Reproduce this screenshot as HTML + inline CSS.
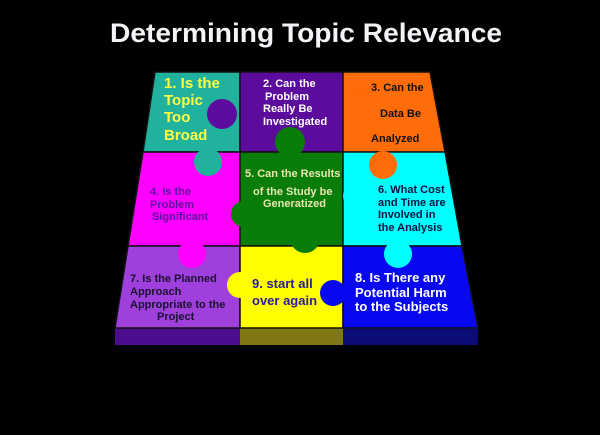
<!DOCTYPE html>
<html><head><style>
html,body{margin:0;padding:0;background:#000;}
svg{display:block;}
text{font-family:"Liberation Sans",sans-serif;font-weight:bold;}
</style></head><body>
<svg width="600" height="435" viewBox="0 0 600 435">
<rect width="600" height="435" fill="#000"/>
<text x="110" y="42" font-size="27" fill="#f4f4f8" textLength="392" lengthAdjust="spacingAndGlyphs">Determining Topic Relevance</text>
<rect x="115" y="328" width="125" height="17" fill="#4c0c90"/>
<rect x="240" y="328" width="103" height="17" fill="#807814"/>
<rect x="343" y="328" width="135" height="17" fill="#0c0c78"/>
<g stroke="#111" stroke-width="1.5">
<polygon points="155,72 240,72 240,152 143,152" fill="#20b29c"/>
<polygon points="240,72 343,72 343,152 240,152" fill="#5c0c9c"/>
<polygon points="343,72 430,72 445,152 343,152" fill="#ff6c08"/>
<polygon points="143,152 240,152 240,246 128,246" fill="#ff00ff"/>
<polygon points="240,152 343,152 343,246 240,246" fill="#0a7c0a"/>
<polygon points="343,152 445,152 462,246 343,246" fill="#00ffff"/>
<polygon points="128,246 240,246 240,328 115,328" fill="#a040dc"/>
<polygon points="240,246 343,246 343,328 240,328" fill="#ffff00"/>
<polygon points="343,246 462,246 478,328 343,328" fill="#0808f0"/>
</g>
<g stroke="none">
<circle cx="222" cy="114" r="15" fill="#5c0c9c"/>
<circle cx="290" cy="142" r="15" fill="#0a7c0a"/>
<circle cx="360" cy="105" r="13" fill="#ff6c08"/>
<circle cx="383" cy="165" r="14" fill="#ff6c08"/>
<circle cx="208" cy="162" r="14" fill="#20b29c"/>
<circle cx="244" cy="214" r="13" fill="#0a7c0a"/>
<circle cx="356" cy="196" r="13" fill="#00ffff"/>
<circle cx="305" cy="238" r="15" fill="#0a7c0a"/>
<circle cx="192" cy="254" r="14" fill="#ff00ff"/>
<circle cx="398" cy="254" r="14" fill="#00ffff"/>
<circle cx="240" cy="285" r="13" fill="#ffff00"/>
<circle cx="333" cy="293" r="13" fill="#0808f0"/>
</g>
<g font-size="15" fill="#ffff44">
<text x="164" y="88">1. Is the</text>
<text x="164" y="105">Topic</text>
<text x="164" y="122">Too</text>
<text x="164" y="140">Broad</text>
</g>
<g font-size="11" fill="#fff">
<text x="263" y="87">2. Can  the</text>
<text x="265" y="100">Problem</text>
<text x="263" y="112">Really  Be</text>
<text x="263" y="125">Investigated</text>
</g>
<g font-size="11" fill="#111">
<text x="371" y="91">3. Can the</text>
<text x="380" y="117">Data Be</text>
<text x="371" y="142">Analyzed</text>
</g>
<g font-size="11" fill="#6010a0">
<text x="150" y="195">4. Is the</text>
<text x="150" y="208">Problem</text>
<text x="152" y="220">Significant</text>
</g>
<g font-size="11" fill="#e8e8b0">
<text x="245" y="177">5.  Can the Results</text>
<text x="253" y="195">of the Study be</text>
<text x="263" y="207">Generatized</text>
</g>
<g font-size="11" fill="#101040">
<text x="378" y="193">6. What Cost</text>
<text x="378" y="206">and  Time are</text>
<text x="378" y="218">Involved in</text>
<text x="378" y="231">the Analysis</text>
</g>
<g font-size="11" fill="#1a1030">
<text x="130" y="282">7. Is the Planned</text>
<text x="130" y="295">Approach</text>
<text x="130" y="308">Appropriate to the</text>
<text x="157" y="320">Project</text>
</g>
<g font-size="13" fill="#2a1a9c">
<text x="252" y="288">9. start all</text>
<text x="252" y="305">over again</text>
</g>
<g font-size="13" fill="#fff">
<text x="355" y="282">8. Is There any</text>
<text x="355" y="297">Potential Harm</text>
<text x="355" y="311">to the Subjects</text>
</g>
</svg>
</body></html>
